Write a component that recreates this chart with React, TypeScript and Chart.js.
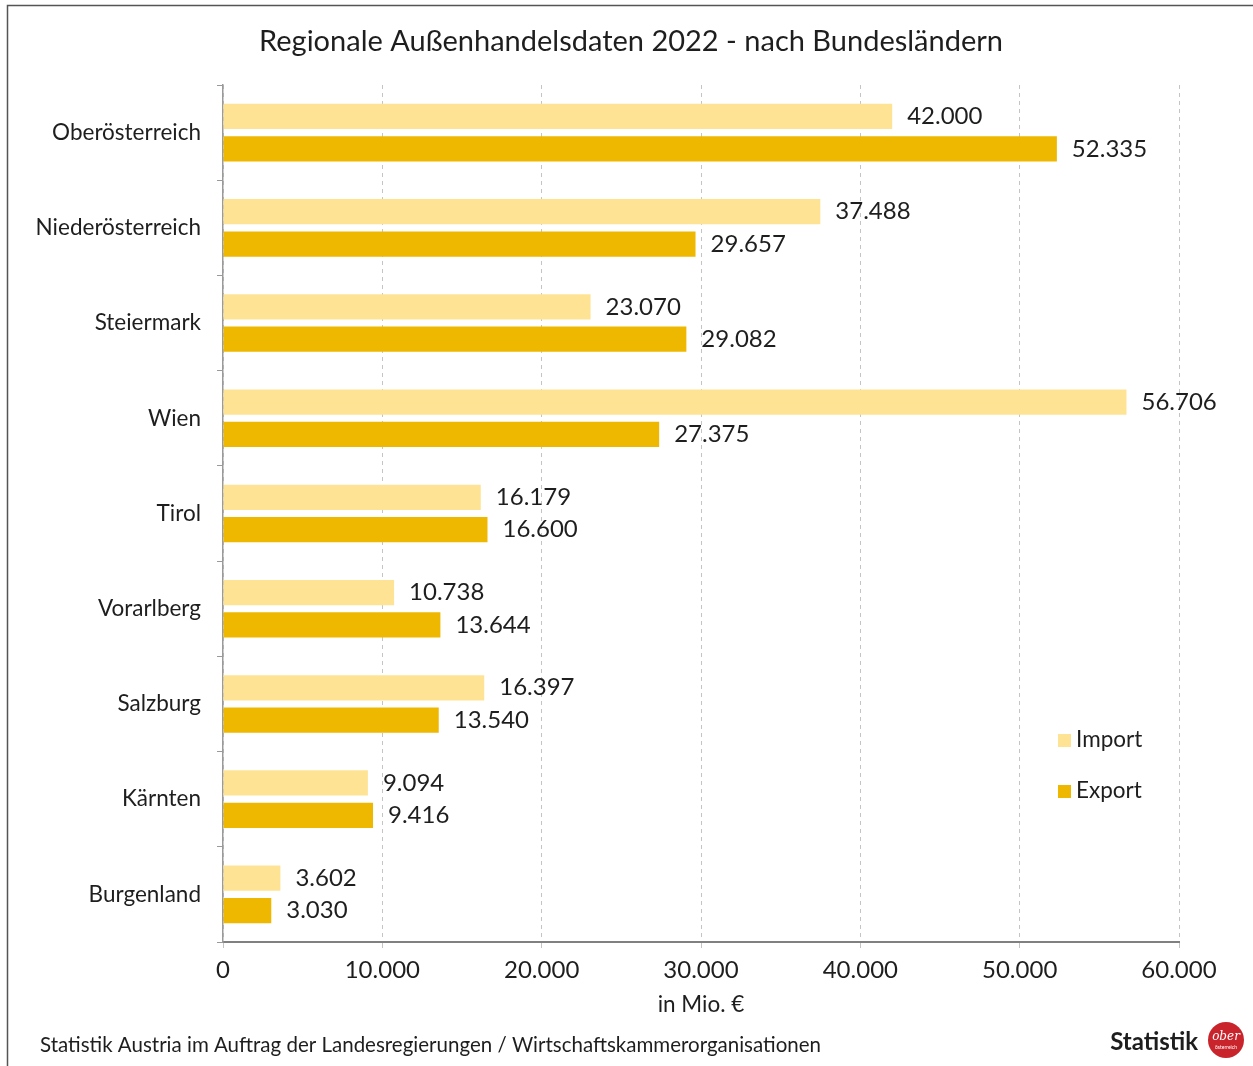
import React, { useEffect, useRef } from "react";
import { Chart, registerables } from "chart.js";

Chart.register(...registerables);

const categories = [
  "Oberösterreich",
  "Niederösterreich",
  "Steiermark",
  "Wien",
  "Tirol",
  "Vorarlberg",
  "Salzburg",
  "Kärnten",
  "Burgenland",
];
const importValues = [42000, 37488, 23070, 56706, 16179, 10738, 16397, 9094, 3602];
const exportValues = [52335, 29657, 29082, 27375, 16600, 13644, 13540, 9416, 3030];
const seriesLabels = ["Import", "Export"];
const xMin = 0;
const xMax = 60000;
const xStep = 10000;
const chartTitle = "Regionale Außenhandelsdaten 2022 - nach Bundesländern";
const axisTitle = "in Mio. €";
const footerText =
  "Statistik Austria im Auftrag der Landesregierungen / Wirtschaftskammerorganisationen";
const logoText = "Statistik";

const FONT = "Lato, 'Liberation Sans', sans-serif";
const TEXT = "#1e1e1e";
const IMPORT_COLOR = "#FFE395";
const EXPORT_COLOR = "#EEB700";

const fmt = (v: number) => String(Math.round(v)).replace(/\B(?=(\d{3})+(?!\d))/g, ".");

const decorPlugin = {
  id: "decor",
  beforeDraw(chart: any) {
    const { ctx, width, height } = chart;
    ctx.save();
    ctx.fillStyle = "#ffffff";
    ctx.fillRect(0, 0, width, height);
    ctx.strokeStyle = "#555555";
    ctx.lineWidth = 1.5;
    ctx.beginPath();
    ctx.moveTo(7.5, height);
    ctx.lineTo(7.5, 5.5);
    ctx.lineTo(width, 5.5);
    ctx.stroke();
    ctx.restore();
  },
  afterDraw(chart: any) {
    const { ctx } = chart;
    ctx.save();
    // title
    ctx.fillStyle = TEXT;
    ctx.font = `29px ${FONT}`;
    ctx.textAlign = "center";
    ctx.textBaseline = "middle";
    ctx.fillText(chartTitle, 631, 42);
    // footer
    ctx.font = `20.5px ${FONT}`;
    ctx.textAlign = "left";
    ctx.fillText(footerText, 40, 1045);
    // logo
    ctx.font = `bold 24px ${FONT}`;
    ctx.textAlign = "right";
    ctx.fillText(logoText, 1198, 1042);
    ctx.fillStyle = "#C9242B";
    ctx.beginPath();
    ctx.arc(1226, 1040, 18, 0, Math.PI * 2);
    ctx.fill();
    ctx.fillStyle = "#ffffff";
    ctx.textAlign = "center";
    ctx.font = `italic 12px 'DejaVu Serif', serif`;
    ctx.fillText("ober", 1226, 1037);
    ctx.font = `5px ${FONT}`;
    ctx.fillText("österreich", 1226, 1047);
    // legend
    const ds = chart.data.datasets;
    const legendY = [740, 791];
    ds.forEach((d: any, i: number) => {
      ctx.fillStyle = d.backgroundColor;
      ctx.fillRect(1058, legendY[i] - 6, 13, 13);
      ctx.fillStyle = TEXT;
      ctx.font = `22.5px ${FONT}`;
      ctx.textAlign = "left";
      ctx.textBaseline = "middle";
      ctx.fillText(d.label, 1076, legendY[i]);
    });
    ctx.restore();
  },
  afterDatasetsDraw(chart: any) {
    const { ctx } = chart;
    ctx.save();
    ctx.fillStyle = TEXT;
    ctx.font = `24px ${FONT}`;
    ctx.textAlign = "left";
    ctx.textBaseline = "middle";
    chart.data.datasets.forEach((d: any, i: number) => {
      const meta = chart.getDatasetMeta(i);
      meta.data.forEach((el: any, j: number) => {
        ctx.fillText(fmt(d.data[j]), el.x + 15, el.y);
      });
    });
    ctx.restore();
  },
};

export default function App() {
  const ref = useRef<HTMLCanvasElement | null>(null);
  useEffect(() => {
    if (!ref.current) return;
    const chart = new Chart(ref.current, {
      type: "bar",
      data: {
        labels: categories,
        datasets: [
          {
            label: seriesLabels[0],
            data: importValues,
            backgroundColor: IMPORT_COLOR,
            barPercentage: 0.78,
            categoryPercentage: 0.68,
          },
          {
            label: seriesLabels[1],
            data: exportValues,
            backgroundColor: EXPORT_COLOR,
            barPercentage: 0.78,
            categoryPercentage: 0.68,
          },
        ],
      },
      options: {
        indexAxis: "y",
        animation: false,
        responsive: false,
        devicePixelRatio: 1,
        layout: { padding: { top: 85, left: 0, right: 74, bottom: 44 } },
        plugins: {
          legend: { display: false },
          title: { display: false },
          tooltip: { enabled: false },
        },
        scales: {
          x: {
            type: "linear",
            min: xMin,
            max: xMax,
            ticks: {
              stepSize: xStep,
              callback: (v: any) => fmt(Number(v)),
              font: { family: FONT, size: 24 },
              color: TEXT,
              padding: 8,
              maxRotation: 0,
            },
            grid: {
              color: "#c4c4c4",
              lineWidth: 1,
              tickLength: 6,
            },
            border: { display: true, color: "#808080", width: 2, dash: [4, 4] },
            title: {
              display: true,
              text: axisTitle,
              font: { family: FONT, size: 22.5 },
              color: TEXT,
              padding: { top: 0, bottom: 4 },
            },
            afterFit: (s: any) => {
              s.height = 80;
            },
          },
          y: {
            type: "category",
            offset: true,
            ticks: {
              font: { family: FONT, size: 22.5 },
              color: TEXT,
              padding: 16,
            },
            grid: {
              drawOnChartArea: false,
              drawTicks: true,
              tickLength: 6,
              color: "#9a9a9a",
              offset: true,
            },
            border: { display: true, color: "#9a9a9a", width: 1.5 },
            afterFit: (s: any) => {
              s.width = 223;
            },
          },
        },
      },
      plugins: [decorPlugin],
    } as any);
    return () => chart.destroy();
  }, []);
  return (
    <div style={{ position: "fixed", left: 0, top: 0, width: 1253, height: 1066 }}>
      <canvas ref={ref} width={1253} height={1066} style={{ display: "block" }} />
    </div>
  );
}
